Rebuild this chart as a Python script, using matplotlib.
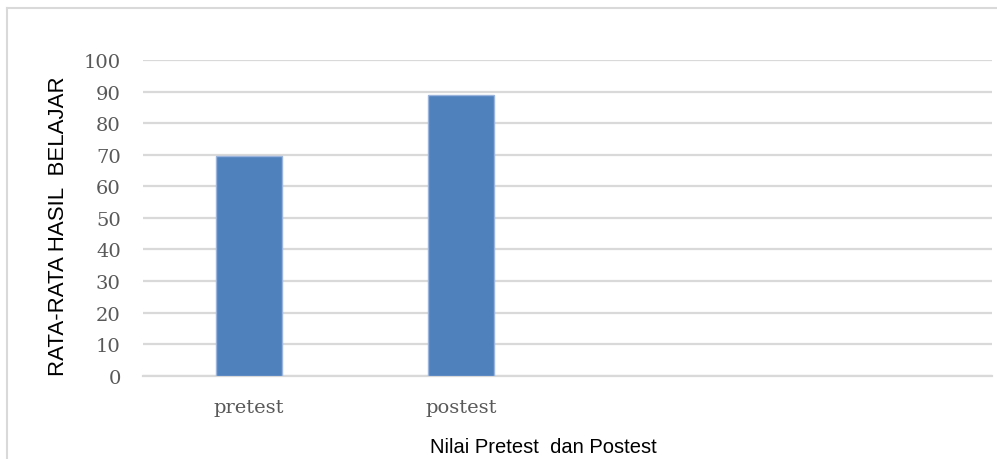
import matplotlib.pyplot as plt
from matplotlib.lines import Line2D

categories = ["pretest", "postest", "", ""]
values = [69.7, 88.9, 0, 0]
yticks = [0, 10, 20, 30, 40, 50, 60, 70, 80, 90, 100]

fig = plt.figure(figsize=(9.97, 4.6), dpi=100)
ax = fig.add_axes([143 / 997, 1 - 376.7 / 460, 849 / 997, 315.7 / 460])

grid_col = "#d9d9d9"
x = range(len(categories))
ax.bar(list(x)[:2], values[:2], width=0.31, color="#4f81bd",
       edgecolor="#9bb4db", linewidth=1.0, zorder=3)

ax.set_xlim(-0.5, len(categories) - 0.5)
ax.set_ylim(0, 100)
ax.set_yticks(yticks)
ax.set_xticks(list(x))
ax.set_xticklabels(categories)
ax.yaxis.grid(True, color=grid_col, linewidth=1.6, zorder=0)
for s in ["top", "right", "left"]:
    ax.spines[s].set_visible(False)
ax.spines["bottom"].set_color(grid_col)
ax.spines["bottom"].set_linewidth(1.6)
ax.tick_params(axis="both", length=0, labelsize=14, labelcolor="#595959")
ax.tick_params(axis="y", pad=16)
ax.tick_params(axis="x", pad=16)
for lab in ax.get_xticklabels() + ax.get_yticklabels():
    lab.set_family("DejaVu Serif")

ax.set_ylabel("RATA-RATA HASIL  BELAJAR", family="Liberation Sans", size=16,
              color="black", va="center")
ax.yaxis.set_label_coords(-0.099, 0.477)
ax.set_xlabel("Nilai Pretest  dan Postest", family="Liberation Sans", size=14.5,
              color="black", va="center")
ax.xaxis.set_label_coords(0.472, -0.223)

# outer chart border (only left and top visible in the crop)
fig.add_artist(Line2D([7 / 997, 7 / 997], [0, 1 - 9 / 460], color=grid_col, lw=1.5))
fig.add_artist(Line2D([7 / 997, 1], [1 - 9 / 460, 1 - 9 / 460], color=grid_col, lw=1.5))

fig.savefig("out.png", dpi=100)
